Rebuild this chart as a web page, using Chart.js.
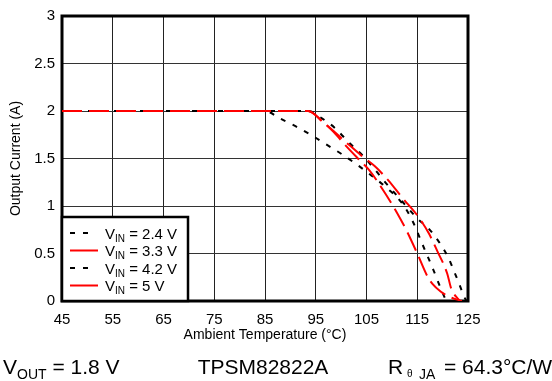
<!DOCTYPE html>
<html>
<head>
<meta charset="utf-8">
<script src="https://cdn.jsdelivr.net/npm/chart.js@4.4.1/dist/chart.umd.min.js"></script>
<style>
  html, body { margin: 0; padding: 0; background: #fff; }
</style>
</head>
<body>
<canvas id="deratingChart" width="552" height="381"></canvas>
<script>
// axis ticks
const xTicks = [45, 55, 65, 75, 85, 95, 105, 115, 125];
const yTicks = [0, 0.5, 1, 1.5, 2, 2.5, 3];

// legend labels (V_IN values)
const vinLabels = ['2.4 V', '3.3 V', '4.2 V', '5 V'];

// VIN = 2.4 V
const temp24 = [45, 85, 88, 91, 94, 97, 100, 103, 106, 109, 112, 114, 116, 118, 119.5, 120.7];
const curr24 = [2, 2, 1.92, 1.84, 1.75, 1.65, 1.55, 1.44, 1.32, 1.19, 1.03, 0.85, 0.6, 0.35, 0.15, 0];

// VIN = 3.3 V
const temp33 = [45, 93.5, 96.5, 98.5, 101, 104, 106.6, 109.3, 112, 115.3, 117.3, 119, 120.9, 121.7, 123.4];
const curr33 = [2, 2, 1.88, 1.79, 1.67, 1.53, 1.42, 1.27, 1.09, 0.88, 0.71, 0.52, 0.29, 0.13, 0];

// VIN = 4.2 V
const temp42 = [45, 93.5, 96, 98.8, 101.5, 104.1, 106.7, 109, 112, 115, 117.3, 119.3, 121, 122.2, 123.2, 124.2, 124.7];
const curr42 = [2, 2, 1.93, 1.82, 1.67, 1.54, 1.38, 1.23, 1.05, 0.87, 0.76, 0.62, 0.47, 0.32, 0.19, 0.05, 0];

// VIN = 5 V
const temp50 = [45, 93.5, 96.5, 98.5, 101, 103.5, 105.5, 108, 111, 113, 115, 117, 118, 119.6, 121.5, 123.8];
const curr50 = [2, 2, 1.88, 1.78, 1.63, 1.49, 1.38, 1.19, 0.93, 0.73, 0.5, 0.26, 0.18, 0.1, 0.04, 0];

const fontFamily = "'Liberation Sans', Arial, sans-serif";
const blackDash = [5, 8];
const redDash = [20, 7];

const toPoints = (xs, ys) => xs.map((x, i) => ({ x: x, y: ys[i] }));

function lineSet(label, xs, ys, color, dash, order) {
    return {
        label: label,
        data: toPoints(xs, ys),
        borderColor: color,
        borderWidth: 2,
        borderDash: dash,
        pointRadius: 0,
        fill: false,
        cubicInterpolationMode: 'monotone',
        order: order
    };
}

// frame round the plot area
const framePlugin = {
    id: 'frame',
    beforeDatasetsDraw(chart) {
        const { ctx, chartArea: a } = chart;
        ctx.save();
        ctx.strokeStyle = '#000';
        ctx.lineWidth = 3;
        ctx.strokeRect(a.left, a.top, a.right - a.left, a.bottom - a.top);
        ctx.restore();
    }
};

// legend box in the lower left corner, with subscripts
const legendPlugin = {
    id: 'subLegend',
    afterDatasetsDraw(chart) {
        const { ctx, chartArea: a } = chart;
        const x0 = a.left, y0 = a.bottom - 84, w = 126, h = 84;
        ctx.save();
        ctx.fillStyle = '#fff';
        ctx.fillRect(x0, y0, w, h);
        ctx.strokeStyle = '#000';
        ctx.lineWidth = 2.5;
        ctx.strokeRect(x0, y0, w, h);
        chart.data.datasets.forEach((ds, i) => {
            const y = y0 + 16 + i * 17.5;
            const isBlack = ds.borderColor === '#000';
            ctx.strokeStyle = ds.borderColor;
            ctx.lineWidth = 2;
            ctx.setLineDash(isBlack ? blackDash : []);
            ctx.beginPath();
            ctx.moveTo(x0 + 8, y);
            ctx.lineTo(x0 + (isBlack ? 26 : 36), y);
            ctx.stroke();
            ctx.setLineDash([]);
            ctx.fillStyle = '#000';
            ctx.textBaseline = 'alphabetic';
            let tx = x0 + 43;
            ctx.font = '15px ' + fontFamily;
            ctx.fillText('V', tx, y + 5.5);
            tx += ctx.measureText('V').width;
            ctx.font = '10px ' + fontFamily;
            ctx.fillText('IN', tx, y + 8.5);
            tx += ctx.measureText('IN').width;
            ctx.font = '15px ' + fontFamily;
            ctx.fillText(' = ' + vinLabels[i], tx, y + 5.5);
        });
        ctx.restore();
    }
};

// the conditions line under the chart
const footerPlugin = {
    id: 'footer',
    afterDraw(chart) {
        const ctx = chart.ctx;
        const big = '21px ' + fontFamily;
        const small = '14px ' + fontFamily;
        const base = 374;
        ctx.save();
        ctx.fillStyle = '#000';
        ctx.textBaseline = 'alphabetic';
        ctx.textAlign = 'left';

        let x = 3;
        ctx.font = big;
        ctx.fillText('V', x, base);
        x += ctx.measureText('V').width;
        ctx.font = small;
        ctx.fillText('OUT', x, base + 5);
        x += ctx.measureText('OUT').width;
        ctx.font = big;
        ctx.fillText(' = 1.8 V', x, base);

        ctx.textAlign = 'center';
        ctx.fillText('TPSM82822A', 263, base);

        ctx.textAlign = 'left';
        ctx.fillText('R', 388, base);
        ctx.font = '10px ' + fontFamily;
        ctx.fillText('\u03b8', 407, base + 3);
        ctx.font = small;
        ctx.fillText('JA', 419, base + 5);
        ctx.font = big;
        ctx.fillText('= 64.3\u00b0C/W', 444, base);
        ctx.restore();
    }
};

const ctx = document.getElementById('deratingChart').getContext('2d');

const deratingChart = new Chart(ctx, {
    type: 'line',
    data: {
        datasets: [
            lineSet('VIN = 2.4 V', temp24, curr24, '#000', blackDash, 1),
            lineSet('VIN = 3.3 V', temp33, curr33, '#ff0000', redDash, 0),
            lineSet('VIN = 4.2 V', temp42, curr42, '#000', blackDash, 1),
            lineSet('VIN = 5 V', temp50, curr50, '#ff0000', redDash, 0)
        ]
    },
    options: {
        responsive: false,
        animation: false,
        layout: { padding: { left: 0, right: 84, top: 13, bottom: 0 } },
        scales: {
            x: {
                type: 'linear',
                min: 45,
                max: 125,
                afterBuildTicks: s => { s.ticks = xTicks.map(v => ({ value: v })); },
                afterFit: s => { s.height = 80; },
                grid: { color: '#222', lineWidth: 1, drawTicks: false },
                border: { display: false },
                ticks: {
                    color: '#000',
                    font: { family: fontFamily, size: 15 },
                    padding: 10,
                    maxRotation: 0,
                    autoSkip: false,
                    callback: v => String(v)
                },
                title: {
                    display: true,
                    text: 'Ambient Temperature (°C)',
                    color: '#000',
                    font: { family: fontFamily, size: 14 },
                    padding: { top: 0, bottom: 37 }
                }
            },
            y: {
                min: 0,
                max: 3,
                afterBuildTicks: s => { s.ticks = yTicks.map(v => ({ value: v })); },
                afterFit: s => { s.width = 62; },
                grid: { color: '#333', lineWidth: 1, drawTicks: false },
                border: { display: false },
                ticks: {
                    color: '#000',
                    font: { family: fontFamily, size: 15 },
                    padding: 7,
                    callback: v => String(v)
                },
                title: {
                    display: true,
                    text: 'Output Current (A)',
                    color: '#000',
                    font: { family: fontFamily, size: 14 },
                    padding: { top: 8, bottom: 0 }
                }
            }
        },
        plugins: {
            legend: { display: false },
            tooltip: { enabled: false }
        }
    },
    plugins: [framePlugin, legendPlugin, footerPlugin]
});
</script>
</body>
</html>
